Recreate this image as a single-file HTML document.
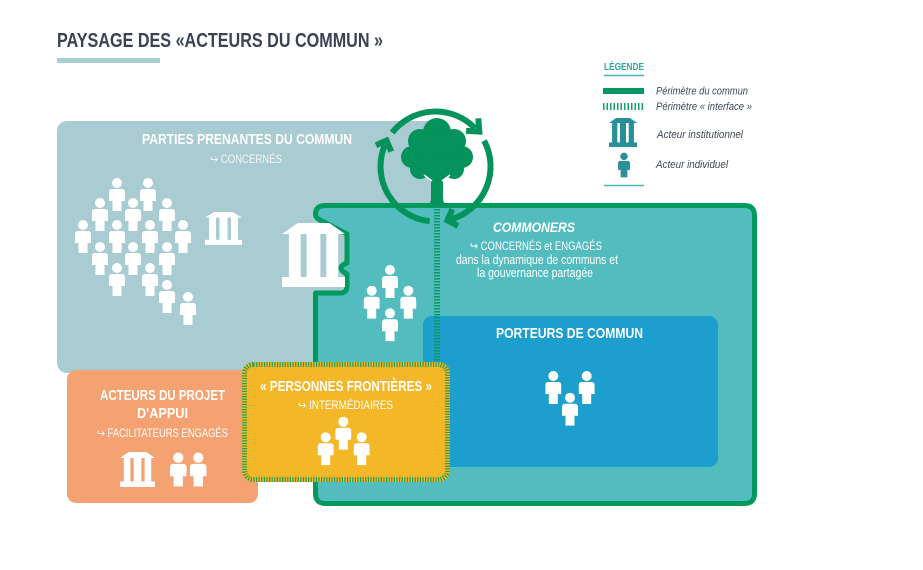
<!DOCTYPE html>
<html><head><meta charset="utf-8"><style>
html,body{margin:0;padding:0;background:#fff;}
svg{display:block;}
text{font-family:"Liberation Sans","DejaVu Sans",sans-serif;}
</style></head><body>
<svg width="923" height="570" viewBox="0 0 923 570" xmlns="http://www.w3.org/2000/svg">
<defs>
<symbol id="p" viewBox="0 0 16 33">
<circle cx="8" cy="5" r="5"/>
<path d="M3 11 H13 Q16 11 16 14.5 V23 H12.5 V33 H3.5 V23 H0 V14.5 Q0 11 3 11 Z"/>
</symbol>
<symbol id="b" viewBox="0 0 64 64" preserveAspectRatio="none">
<polygon points="16,0 48,0 64,11 0,11"/>
<rect x="7" y="10.5" width="12" height="44"/>
<rect x="25" y="10.5" width="14" height="44"/>
<rect x="45" y="10.5" width="12" height="44"/>
<rect x="0" y="54" width="64" height="10"/>
</symbol>
</defs>

<!-- Title -->
<text x="57" y="47" font-size="20" font-weight="bold" fill="#3a4354" textLength="326" lengthAdjust="spacingAndGlyphs">PAYSAGE DES «ACTEURS DU COMMUN »</text>
<rect x="57" y="58" width="103" height="5" fill="#a9ced3"/>

<!-- Legend -->
<text x="604" y="70" font-size="10" font-weight="bold" fill="#2ca5a6" textLength="40" lengthAdjust="spacingAndGlyphs">LÉGENDE</text>
<line x1="604" y1="75.5" x2="644" y2="75.5" stroke="#4ab4b4" stroke-width="1.5"/>
<rect x="603" y="88" width="41" height="6" fill="#03985f"/>
<line x1="603" y1="106.5" x2="644" y2="106.5" stroke="#12a070" stroke-width="7" stroke-dasharray="1.5 2"/>
<text x="656" y="94.5" font-size="11" font-style="italic" fill="#3e4758" textLength="92" lengthAdjust="spacingAndGlyphs">Périmètre du commun</text>
<text x="656" y="110" font-size="11" font-style="italic" fill="#3e4758" textLength="96" lengthAdjust="spacingAndGlyphs">Périmètre « interface »</text>
<use href="#b" x="609" y="118" width="28" height="29" fill="#2b8f99"/>
<text x="657" y="138" font-size="11" font-style="italic" fill="#3e4758" textLength="86" lengthAdjust="spacingAndGlyphs">Acteur institutionnel</text>
<use href="#p" x="618" y="152" width="12" height="26" fill="#2b8f99"/>
<text x="656" y="168" font-size="11" font-style="italic" fill="#3e4758" textLength="72" lengthAdjust="spacingAndGlyphs">Acteur individuel</text>
<line x1="604" y1="185.5" x2="644" y2="185.5" stroke="#4ab4b4" stroke-width="1.5"/>

<!-- Gray box -->
<rect x="57" y="121" width="381" height="252" rx="10" fill="#a8ccd2"/>
<text x="142" y="144" font-size="15" font-weight="bold" fill="#fff" textLength="210" lengthAdjust="spacingAndGlyphs">PARTIES PRENANTES DU COMMUN</text>
<text x="210" y="163" font-size="11.5" fill="#f0f6f7" textLength="72" lengthAdjust="spacingAndGlyphs">↪ CONCERNÉS</text>

<!-- Orange box -->
<rect x="67" y="370" width="191" height="133" rx="9" fill="#f4a271"/>
<text x="162.5" y="400" text-anchor="middle" font-size="15" font-weight="bold" fill="#fff" textLength="125" lengthAdjust="spacingAndGlyphs">ACTEURS DU PROJET</text>
<text x="162.5" y="418" text-anchor="middle" font-size="15" font-weight="bold" fill="#fff" textLength="51" lengthAdjust="spacingAndGlyphs">D'APPUI</text>
<text x="162.5" y="437" text-anchor="middle" font-size="11.5" fill="#fff" textLength="131" lengthAdjust="spacingAndGlyphs">↪ FACILITATEURS ENGAGÉS</text>
<use href="#b" x="120" y="452" width="35" height="35" fill="#fff"/>
<use href="#p" x="170" y="452" width="16.5" height="35" fill="#fff"/>
<use href="#p" x="190" y="452" width="16.5" height="35" fill="#fff"/>

<!-- Commoners box -->
<path d="M325.5 205.5 H744.5 Q754.5 205.5 754.5 215.5 V493.5 Q754.5 503.5 744.5 503.5 H325.5 Q315.5 503.5 315.5 493.5 V293 H340 Q347 293 347 286 V274 Q341 271 341 268 Q341 265 347 263 V234 L319 219.5 Q315.5 217.5 315.5 214 Q315.5 205.5 325.5 205.5 Z" fill="#52bcbf" stroke="#009a5e" stroke-width="5" stroke-linejoin="round"/>

<!-- Porteurs box -->
<rect x="423" y="316" width="295" height="151" rx="9" fill="#1c9fcc"/>
<text x="569.5" y="338" text-anchor="middle" font-size="15" font-weight="bold" fill="#fff" textLength="147" lengthAdjust="spacingAndGlyphs">PORTEURS DE COMMUN</text>
<use href="#p" x="545.3" y="371" width="16" height="33" fill="#fff"/>
<use href="#p" x="578.7" y="371" width="16" height="33" fill="#fff"/>
<use href="#p" x="562" y="392.7" width="16" height="33" fill="#fff"/>

<!-- dashed interface line -->
<line x1="437" y1="206" x2="437" y2="362" stroke="#0b9a63" stroke-width="6" stroke-dasharray="1.5 1.5"/>

<!-- Commoners texts -->
<text x="534" y="232" text-anchor="middle" font-size="14" font-weight="bold" font-style="italic" fill="#fff" textLength="82" lengthAdjust="spacingAndGlyphs">COMMONERS</text>
<text x="536" y="250" text-anchor="middle" font-size="12" fill="#fff" textLength="132" lengthAdjust="spacingAndGlyphs">↪ CONCERNÉS et ENGAGÉS</text>
<text x="537" y="264" text-anchor="middle" font-size="12.5" fill="#fff" textLength="162" lengthAdjust="spacingAndGlyphs">dans la dynamique de communs et</text>
<text x="535" y="277" text-anchor="middle" font-size="12.5" fill="#fff" textLength="116" lengthAdjust="spacingAndGlyphs">la gouvernance partagée</text>

<!-- big bank & people in commoners -->
<use href="#b" x="282" y="223" width="63" height="64" fill="#fff"/>
<use href="#p" x="382" y="265" width="16" height="33" fill="#fff"/>
<use href="#p" x="363.7" y="285.7" width="16" height="33" fill="#fff"/>
<use href="#p" x="400.3" y="285.7" width="16" height="33" fill="#fff"/>
<use href="#p" x="382" y="308.3" width="16" height="33" fill="#fff"/>

<!-- Gray box people -->
<g fill="#fff">
<use href="#p" x="109" y="178" width="16" height="33"/>
<use href="#p" x="140" y="178" width="16" height="33"/>
<use href="#p" x="92" y="198" width="16" height="33"/>
<use href="#p" x="125" y="198" width="16" height="33"/>
<use href="#p" x="159" y="198" width="16" height="33"/>
<use href="#p" x="75" y="220" width="16" height="33"/>
<use href="#p" x="109" y="220" width="16" height="33"/>
<use href="#p" x="142" y="220" width="16" height="33"/>
<use href="#p" x="175" y="220" width="16" height="33"/>
<use href="#p" x="92" y="242" width="16" height="33"/>
<use href="#p" x="125" y="242" width="16" height="33"/>
<use href="#p" x="159" y="242" width="16" height="33"/>
<use href="#p" x="109" y="263" width="16" height="33"/>
<use href="#p" x="142" y="263" width="16" height="33"/>
<use href="#p" x="159" y="280" width="16" height="33"/>
<use href="#p" x="180" y="292" width="16" height="33"/>
<use href="#b" x="205" y="212" width="37" height="33"/>
</g>

<!-- Yellow box -->
<rect x="242" y="362" width="208" height="120" rx="11" fill="#f3b728"/>
<rect x="244.5" y="364.5" width="203" height="115" rx="9" fill="none" stroke="#2e9b50" stroke-width="5" stroke-dasharray="1.2 1.4"/>
<text x="346" y="391" text-anchor="middle" font-size="15" font-weight="bold" fill="#fff" textLength="172" lengthAdjust="spacingAndGlyphs">« PERSONNES FRONTIÈRES »</text>
<text x="345.5" y="409" text-anchor="middle" font-size="11.5" fill="#fff" textLength="95" lengthAdjust="spacingAndGlyphs">↪ INTERMÉDIAIRES</text>
<use href="#p" x="335.3" y="416.7" width="16" height="33" fill="#fff"/>
<use href="#p" x="317.7" y="432.3" width="16" height="33" fill="#fff"/>
<use href="#p" x="353.7" y="432.3" width="16" height="33" fill="#fff"/>

<!-- Tree -->
<g fill="#03935b">
<circle cx="437" cy="132" r="14"/>
<circle cx="420" cy="141" r="12"/>
<circle cx="454" cy="141" r="12"/>
<circle cx="412" cy="157" r="11"/>
<circle cx="462" cy="157" r="11"/>
<circle cx="437" cy="152" r="22"/>
<circle cx="420" cy="169" r="10"/>
<circle cx="454" cy="169" r="10"/>
<circle cx="437" cy="170" r="12"/>
<path d="M431 176 L431 198 Q431 204 426 206 L448 206 Q443 204 443 198 L443 176 Z"/>
</g>
<line x1="424" y1="175" x2="432" y2="181" stroke="#fff" stroke-width="1.5"/>
<line x1="450" y1="175" x2="442" y2="181" stroke="#fff" stroke-width="1.5"/>

<!-- Cycle arrows -->
<g fill="none" stroke="#03935b" stroke-width="6" stroke-linecap="butt" stroke-linejoin="miter">
<path d="M392.2 132.6 A55 55 0 0 1 475.1 128.3"/>
<path d="M484.1 140.7 A55 55 0 0 1 450.7 219.4"/>
<path d="M429.7 221.2 A55 55 0 0 1 384.9 145.0"/>
<polyline points="478.3,118.3 479.3,131.6 466.1,130.9"/>
<polyline points="458.0,226.0 447.5,220.3 452.3,209.2"/>
<polyline points="376.0,145.2 386.5,140.6 391.3,151.6"/>
</g>
</svg>
</body></html>
